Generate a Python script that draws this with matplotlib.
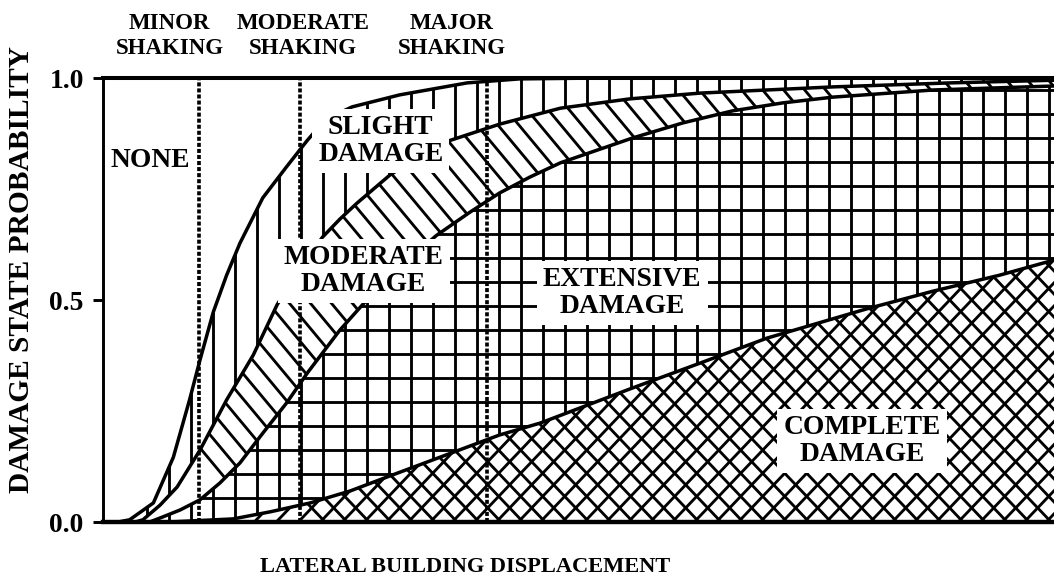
import numpy as np
import matplotlib
matplotlib.use("Agg")
import matplotlib.pyplot as plt
from matplotlib.patches import Polygon
from matplotlib.collections import LineCollection

plt.rcParams["font.family"] = ["Liberation Serif", "DejaVu Serif"]
plt.rcParams["font.weight"] = "bold"

# Probability of reaching or exceeding each damage state vs. lateral displacement
slight_x = [0.16, 0.28, 0.53, 0.74, 0.91, 1.02, 1.16, 1.30, 1.44, 1.68, 1.93, 2.15,
            2.28, 2.44, 2.62, 3.12, 3.83, 4.38, 5.23, 10.0]
slight_y = [0.0, 0.005, 0.043, 0.146, 0.275, 0.365, 0.473, 0.556, 0.628, 0.730, 0.800,
            0.860, 0.892, 0.917, 0.935, 0.962, 0.989, 0.998, 1.0, 1.0]

moderate_x = [0.34, 0.42, 0.60, 0.78, 1.02, 1.30, 1.58, 1.83, 2.07, 2.31, 2.49, 2.67,
              3.02, 3.33, 3.63, 4.17, 4.81, 5.54, 6.28, 7.68, 8.91, 10.0]
moderate_y = [0.0, 0.005, 0.038, 0.079, 0.162, 0.275, 0.376, 0.489, 0.572, 0.642, 0.682,
              0.718, 0.782, 0.824, 0.858, 0.896, 0.932, 0.953, 0.966, 0.980, 0.989, 0.995]

extensive_x = [0.49, 0.60, 0.81, 1.02, 1.23, 1.44, 1.68, 1.93, 2.15, 2.49, 2.84, 3.18,
               3.51, 3.86, 4.17, 4.49, 4.81, 5.23, 5.57, 6.10, 6.62, 7.15, 7.68, 8.73, 10.0]
extensive_y = [0.0, 0.009, 0.027, 0.050, 0.088, 0.133, 0.200, 0.268, 0.336, 0.432, 0.516,
               0.586, 0.646, 0.698, 0.741, 0.777, 0.809, 0.840, 0.865, 0.899, 0.926, 0.944,
               0.957, 0.973, 0.982]

complete_x = [0.70, 1.37, 1.76, 2.18, 2.60, 3.02, 3.72, 4.17, 4.60, 5.57, 6.28, 6.98,
              8.03, 8.73, 9.43, 10.0]
complete_y = [0.0, 0.007, 0.023, 0.043, 0.070, 0.104, 0.160, 0.196, 0.223, 0.302, 0.358,
              0.414, 0.480, 0.520, 0.556, 0.590]

# Shaking-level boundaries along the displacement axis
shaking_x = [1.01, 2.07, 4.04]
shaking_labels = ["MINOR\nSHAKING", "MODERATE\nSHAKING", "MAJOR\nSHAKING"]
shaking_label_x = [0.70, 2.10, 3.67]

state_labels = ["NONE", "SLIGHT\nDAMAGE", "MODERATE\nDAMAGE", "EXTENSIVE\nDAMAGE",
                "COMPLETE\nDAMAGE"]
state_label_pos = [(0.50, 0.815), (2.92, 0.858), (2.74, 0.565), (5.46, 0.516), (7.98, 0.182)]

y_ticks = [0.0, 0.5, 1.0]
y_ticklabels = ["0.0", "0.5", "1.0"]

DPI = 132
W, H = 1054, 581
AX_W, AX_H = 1054 - 103, 444          # axes size in pixels
fig = plt.figure(figsize=(W / DPI, H / DPI), dpi=DPI)
ax = fig.add_axes([103 / W, (H - 522) / H, AX_W / W, AX_H / H])
ax.set_xlim(0, 10)
ax.set_ylim(0, 1)

PX_X = AX_W / 10.0   # pixels per x unit
PX_Y = AX_H / 1.0    # pixels per y unit
HATCH_LW = 1.55


def hatch_lines(kind):
    """Line segments (data coords) covering the axes for a hatch style."""
    segs = []
    if kind in ("vert", "grid"):
        for x in np.arange(0.0, 10.01, 22 / PX_X):
            segs.append([(x, -0.1), (x, 1.1)])
    if kind == "grid":
        for y in np.arange(0.0, 1.01, 24 / PX_Y):
            segs.append([(-0.1, y), (10.1, y)])
    if kind in ("back", "cross"):
        s = 1.2 if kind == "back" else 1.05
        step = 21 if kind == "back" else 22
        m = s * PX_X / PX_Y
        for x0 in np.arange(-3.0, 10.01, step / PX_X):
            segs.append([(x0, 1.2), (x0 + 1.4 / m, -0.2)])
            if kind == "cross":
                segs.append([(x0, -0.2), (x0 + 1.4 / m, 1.2)])
    return segs


def band(ax, ux, uy, lx, ly, kind):
    xs = list(ux) + list(lx)[::-1]
    ys = list(uy) + list(ly)[::-1]
    poly = Polygon(np.column_stack([xs, ys]), closed=True, facecolor="white",
                   edgecolor="none", zorder=1)
    ax.add_patch(poly)
    lc = LineCollection(hatch_lines(kind), colors="black", linewidths=HATCH_LW, zorder=1.5)
    ax.add_collection(lc)
    lc.set_clip_path(poly)


band(ax, slight_x, slight_y, moderate_x, moderate_y, "vert")
band(ax, moderate_x, moderate_y, extensive_x, extensive_y, "back")
band(ax, extensive_x, extensive_y, complete_x, complete_y, "grid")
band(ax, complete_x + [10.0], complete_y + [0.0], [complete_x[0]], [0.0], "cross")

for cx, cy in [(slight_x, slight_y), (moderate_x, moderate_y),
               (extensive_x, extensive_y), (complete_x, complete_y)]:
    ax.plot(cx, cy, color="black", lw=1.9, zorder=2, solid_capstyle="round")

for sx in shaking_x:
    ax.axvline(sx, color="black", lw=2.0, linestyle=(0, (1.1, 0.55)), zorder=3)

for txt, (tx, ty) in zip(state_labels, state_label_pos):
    ax.text(tx, ty, txt, ha="center", va="center", fontsize=15, fontweight="bold",
            linespacing=1.1, zorder=5,
            bbox=dict(boxstyle="square,pad=0.22", facecolor="white", edgecolor="none"))

for txt, lx in zip(shaking_labels, shaking_label_x):
    ax.text(lx, 1.0 + 42 / PX_Y, txt, ha="center", va="center", fontsize=12.5,
            fontweight="bold", linespacing=1.3, clip_on=False)

ax.set_yticks(y_ticks)
ax.set_yticklabels(y_ticklabels, fontsize=15, fontweight="bold")
ax.set_xticks([])
ax.tick_params(axis="y", length=5.5, width=1.6, pad=5, direction="out")

ax.spines["right"].set_visible(False)
ax.spines["left"].set_linewidth(1.6)
ax.spines["top"].set_linewidth(2.2)
ax.spines["bottom"].set_linewidth(2.4)
for s in ax.spines.values():
    s.set_zorder(6)

fig.text(465 / W, 1 - 567 / H, "LATERAL BUILDING DISPLACEMENT", ha="center", va="center",
         fontsize=12.2, fontweight="bold")
fig.text(22 / W, 1 - 270 / H, "DAMAGE STATE PROBABILITY", ha="center", va="center",
         rotation=90, fontsize=16, fontweight="bold")

fig.savefig("out.png", dpi=DPI)
